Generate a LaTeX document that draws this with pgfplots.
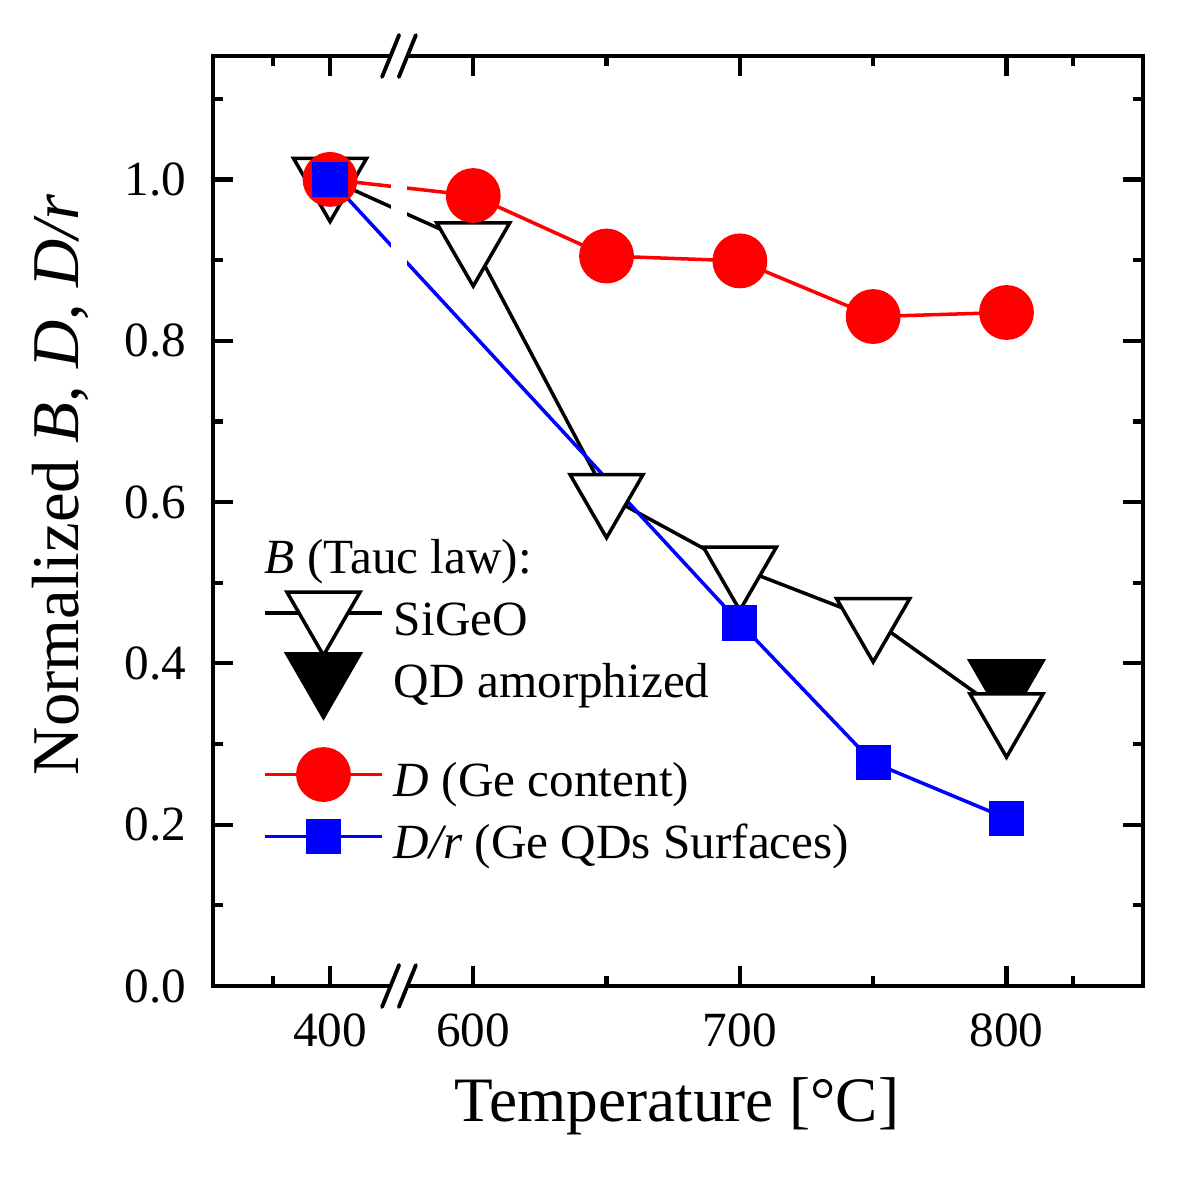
\documentclass[border=0pt]{standalone}
\usepackage{fontspec}
\setmainfont{Liberation Serif}
\usepackage{pgfplots}
\pgfplotsset{compat=1.18}
\definecolor{myred}{RGB}{255,0,0}
\definecolor{myblue}{RGB}{0,0,255}
\pgfplotsset{
  mylegimg/.style={legend image code/.code={
     \path[draw=none, fill=none] (0cm,-0.1cm) rectangle (1.17cm,0.1cm);
     \begin{scope}[overlay, yshift=0.05cm]
     \draw[mark repeat=2, mark phase=2, ##1] plot coordinates {(0cm,0cm) (0.585cm,0cm) (1.17cm,0cm)};
     \end{scope}}},
  sigeo/.style={black, line width=1pt, mark=triangle*, mark size=12pt, mark options={rotate=180, fill=white, draw=black, solid}},
  qdam/.style={black, line width=1pt, only marks, mark=triangle*, mark size=12pt, mark options={rotate=180, fill=black, draw=black}},
  dser/.style={myred, line width=1pt, mark=*, mark size=7.3pt, mark options={fill=myred, draw=myred}},
  drser/.style={myblue, line width=1pt, mark=square*, mark size=4.5pt, mark options={fill=myblue, draw=myblue}},
}
% x = 546.3 is the plotted position of 400 (left of the axis break)
\begin{document}
\begin{tikzpicture}
\begin{axis}[
  set layers,
  clip=false,
  scale only axis, width=9.3cm, height=9.3cm,
  xmin=502.4, xmax=851.2, ymin=0, ymax=1.153,
  xtick={546.3,600,700,800}, xticklabels={400,600,700,800},
  minor xtick={525,650,750,825},
  ytick={0,0.2,0.4,0.6,0.8,1.0}, yticklabels={0.0,0.2,0.4,0.6,0.8,1.0},
  minor ytick={0.1,0.3,0.5,0.7,0.9,1.1},
  tick align=inside, xtick pos=both, ytick pos=both,
  major tick length=0.2cm, minor tick length=0.1cm,
  every tick/.style={black, line width=1.2pt},
  axis line style={line width=1.4pt},
  tick label style={font=\fontsize{14pt}{16pt}\selectfont, inner sep=0pt},
  xticklabel style={yshift=-0.27cm},
  yticklabel style={xshift=-0.26cm},
  label style={font=\fontsize{19pt}{22pt}\selectfont},
  xlabel={Temperature [°C]},
  xlabel style={at={(axis description cs:0.499,0)}, anchor=base, yshift=-1.35cm, font=\fontsize{18pt}{22pt}\selectfont},
  ylabel={Normalized \textit{B}, \textit{D}, \textit{D/r}},
  ylabel style={at={(axis description cs:-0.1645,0.539)}, anchor=center},
  legend style={draw=none, fill=none, inner sep=0pt, outer sep=0pt,
     at={(axis description cs:0.0559,0.486)}, anchor=north west,
     font=\fontsize{14pt}{16pt}\selectfont,
     nodes={inner sep=0pt}, row sep=4.9pt, column sep=0.12cm},
  legend cell align=left,
]
% data
\addplot[qdam, forget plot] coordinates {(800,0.377)};
\addplot[sigeo, forget plot] coordinates {(546.3,1.0) (600,0.920) (650,0.608) (700,0.518) (750,0.454) (800,0.336)};
\addplot[dser, forget plot] coordinates {(546.3,1.0) (600,0.980) (650,0.905) (700,0.899) (750,0.830) (800,0.835)};
\addplot[drser, forget plot] coordinates {(546.3,1.0) (700,0.450) (750,0.277) (800,0.208)};
% axis break
\fill[white] (axis cs:569,-0.035) rectangle (axis cs:575.3,1.19);
\draw[black, line width=1.1pt, line cap=round] (axis cs:565.8,-0.026) -- (axis cs:572.2,0.026);
\draw[black, line width=1.1pt, line cap=round] (axis cs:572.1,-0.026) -- (axis cs:578.5,0.026);
\draw[black, line width=1.1pt, line cap=round] (axis cs:565.8,1.127) -- (axis cs:572.2,1.179);
\draw[black, line width=1.1pt, line cap=round] (axis cs:572.1,1.127) -- (axis cs:578.5,1.179);
% legend
\addlegendimage{empty legend}
\addlegendentry{\hspace*{-1.29cm}\strut\textit{B} (Tauc law):}
\addlegendimage{sigeo, mylegimg}
\addlegendentry{\strut SiGeO}
\addlegendimage{qdam, mylegimg}
\addlegendentry{\strut QD amorphized}
\addlegendimage{empty legend}
\addlegendentry{\rule{0pt}{4.3pt}}
\addlegendimage{dser, mylegimg}
\addlegendentry{\strut\textit{D} (Ge content)}
\addlegendimage{drser, mylegimg}
\addlegendentry{\strut\textit{D/r} (Ge QDs Surfaces)}
\end{axis}
\path (-2.13cm,-2.14cm) rectangle (9.87cm,9.86cm);
\end{tikzpicture}
\end{document}
